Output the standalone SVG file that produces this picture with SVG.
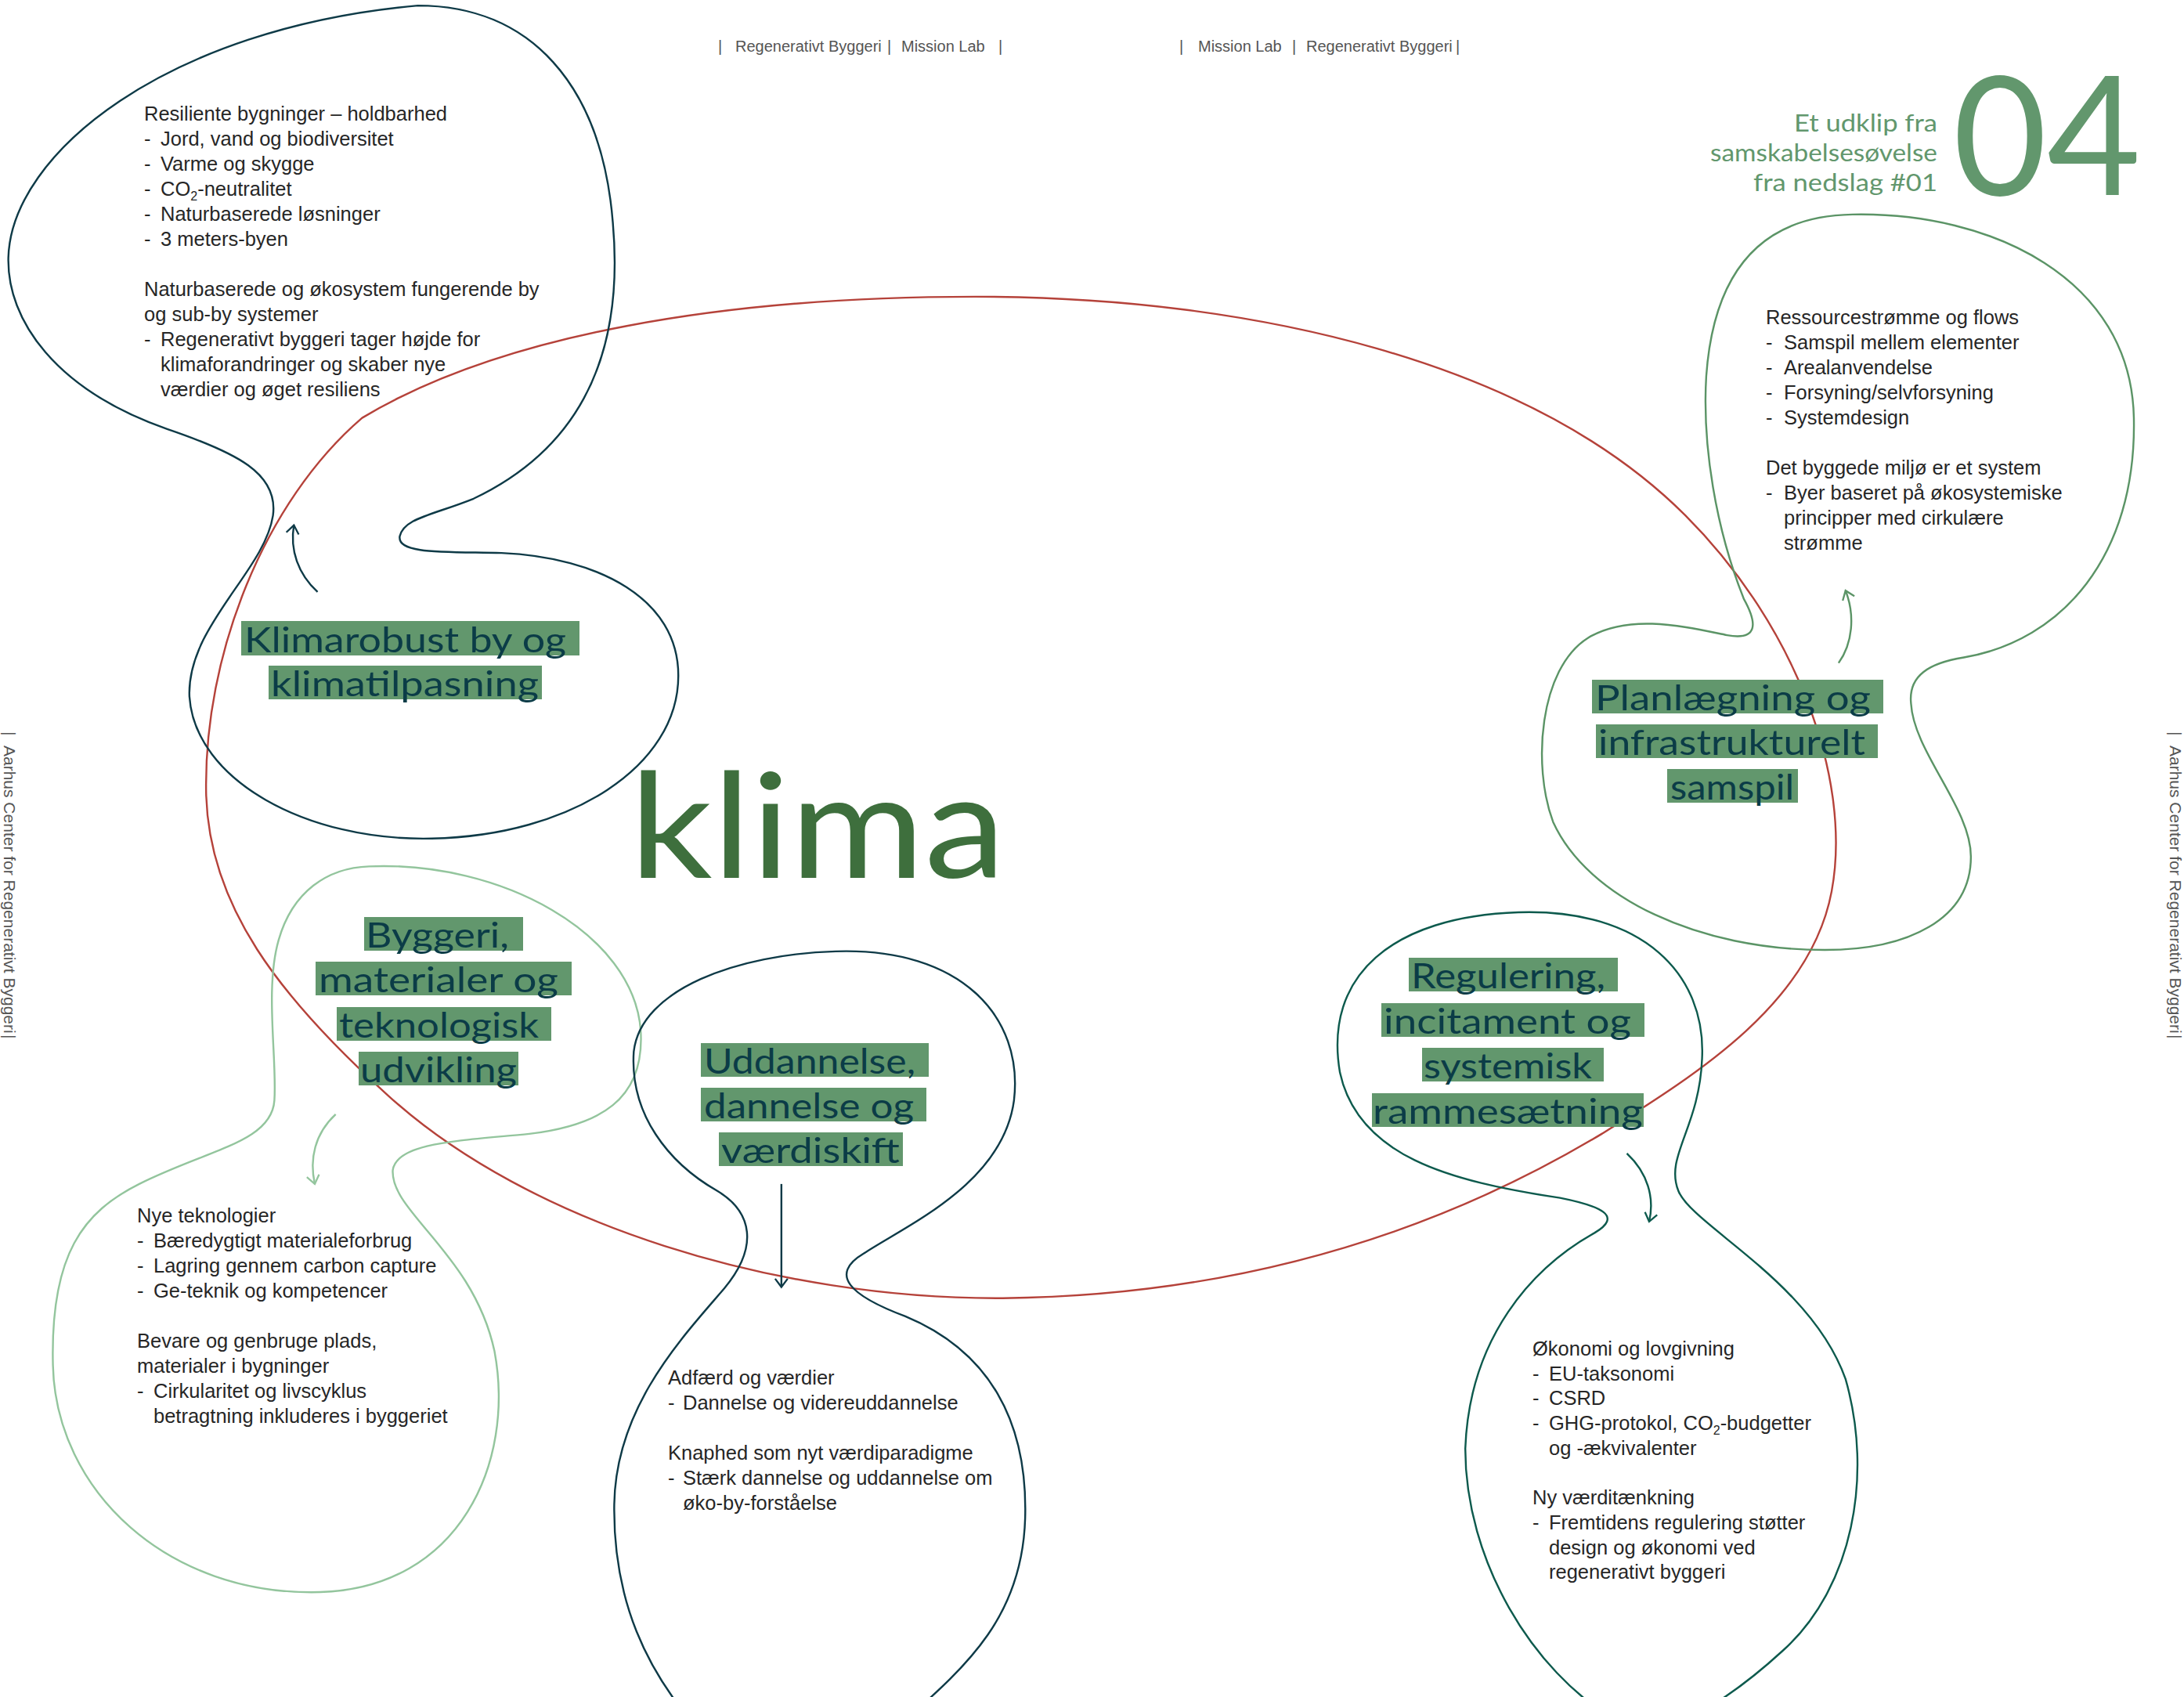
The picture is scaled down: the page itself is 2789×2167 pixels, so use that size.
<svg xmlns="http://www.w3.org/2000/svg" width="2789" height="2167" viewBox="0 0 2789 2167">
<defs>
<style>
.body{font-family:"Liberation Sans",Arial,Helvetica,sans-serif;font-size:25.5px;fill:#262626;}
.hdr{font-family:"Liberation Sans",Arial,Helvetica,sans-serif;font-size:20px;fill:#555555;}
.side{font-family:"Liberation Sans",Arial,Helvetica,sans-serif;font-size:21px;fill:#555555;}
.lbl{font-family:Lato,"Noto Sans",sans-serif;font-size:45px;fill:#0b3c47;}
.hl{fill:#62976d;}
.blob{fill:none;stroke-width:1.35;}
.conn{fill:none;stroke-width:1.35;}
.green{font-family:Lato,"Noto Sans",sans-serif;fill:#62976d;}
.sub{font-size:16px;}
</style>
<marker id="ah-navy" viewBox="-8 -6 10 12" markerWidth="10" markerHeight="12" refX="0" refY="0" orient="auto" markerUnits="userSpaceOnUse"><path d="M-6,-4.5 L0,0 L-6,4.5" fill="none" stroke="#0e3a47" stroke-width="1.3"/></marker>
<marker id="ah-green" viewBox="-8 -6 10 12" markerWidth="10" markerHeight="12" refX="0" refY="0" orient="auto" markerUnits="userSpaceOnUse"><path d="M-6,-4.5 L0,0 L-6,4.5" fill="none" stroke="#5b9466" stroke-width="1.3"/></marker>
<marker id="ah-light" viewBox="-8 -6 10 12" markerWidth="10" markerHeight="12" refX="0" refY="0" orient="auto" markerUnits="userSpaceOnUse"><path d="M-6,-4.5 L0,0 L-6,4.5" fill="none" stroke="#93c59d" stroke-width="1.3"/></marker>
<marker id="ah-teal" viewBox="-8 -6 10 12" markerWidth="10" markerHeight="12" refX="0" refY="0" orient="auto" markerUnits="userSpaceOnUse"><path d="M-6,-4.5 L0,0 L-6,4.5" fill="none" stroke="#0d5a4d" stroke-width="1.3"/></marker>
</defs>
<rect width="2789" height="2167" fill="#ffffff"/>

<!-- page furniture -->
<g id="header">
<text class="hdr" y="66"><tspan x="917">|</tspan><tspan x="939">Regenerativt Byggeri</tspan><tspan x="1133">|</tspan><tspan x="1151">Mission Lab</tspan><tspan x="1275">|</tspan></text>
<text class="hdr" y="66"><tspan x="1506">|</tspan><tspan x="1530">Mission Lab</tspan><tspan x="1650">|</tspan><tspan x="1668">Regenerativt Byggeri</tspan><tspan x="1859">|</tspan></text>
<text class="side" transform="translate(2771,934) rotate(90)"><tspan x="0" y="0">|</tspan><tspan x="18">Aarhus Center for Regenerativt Byggeri</tspan><tspan x="387">|</tspan></text>
<text class="side" transform="translate(5,934) rotate(90)"><tspan x="0" y="0">|</tspan><tspan x="18">Aarhus Center for Regenerativt Byggeri</tspan><tspan x="387">|</tspan></text>
</g>

<g id="title">
<text class="green" x="2291" y="168" font-size="31" textLength="183" lengthAdjust="spacingAndGlyphs">Et udklip fra</text>
<text class="green" x="2184" y="206" font-size="31" textLength="290" lengthAdjust="spacingAndGlyphs">samskabelsesøvelse</text>
<text class="green" x="2239" y="244" font-size="31" textLength="235" lengthAdjust="spacingAndGlyphs">fra nedslag #01</text>
<text class="green" x="2494" y="249" font-size="211" textLength="240" lengthAdjust="spacingAndGlyphs">04</text>
</g>

<!-- central climate loop -->
<g id="klima">
<path class="blob" stroke="#b5423a" transform="scale(1.7787)" d="M 700 213 C 900 213, 1100 260, 1210 370 C 1290 450, 1330 560, 1315 640 C 1300 720, 1220 770, 1150 814 C 1040 880, 900 930, 720 932 C 560 933, 380 880, 277 785 C 200 715, 150 650, 148 570 C 146 470, 190 360, 260 300 C 360 240, 520 213, 700 213 Z"/>
<text x="804" y="1121" font-family="Lato,'Noto Sans',sans-serif" font-size="186" fill="#3e6f3d" textLength="480" lengthAdjust="spacingAndGlyphs">klima</text>
</g>

<!-- node outlines -->
<g id="node-klimarobust-shape">
<path class="blob" stroke="#0e3a47" transform="scale(1.7787)" d="M 300 4 C 380 4, 432 60, 440 160 C 448 250, 420 320, 340 358 C 310 370, 290 372, 287 385 C 285 398, 320 396, 360 397 C 430 400, 487 430, 487 485 C 487 550, 410 600, 310 602 C 220 604, 140 560, 136 500 C 134 450, 190 410, 196 370 C 200 340, 170 325, 120 308 C 40 280, 5 230, 6 185 C 8 110, 120 20, 300 4 Z"/>
</g>
<g id="node-planlaegning-shape">
<path class="blob" stroke="#5b9466" transform="scale(1.7787)" d="M 1330 154 C 1430 152, 1530 200, 1532 300 C 1534 400, 1480 460, 1410 472 C 1385 476, 1370 485, 1372 505 C 1374 540, 1415 580, 1415 615 C 1415 660, 1370 682, 1310 682 C 1220 682, 1140 645, 1115 590 C 1100 550, 1105 480, 1140 458 C 1170 440, 1210 450, 1240 456 C 1262 460, 1262 448, 1252 430 C 1232 380, 1222 320, 1225 270 C 1230 200, 1260 155, 1330 154 Z"/>
</g>
<g id="node-byggeri-shape">
<path class="blob" stroke="#93c59d" transform="scale(1.7787)" d="M 265 622 C 360 618, 455 670, 460 740 C 463 790, 430 808, 380 814 C 330 819, 285 820, 282 840 C 280 870, 340 900, 355 970 C 370 1050, 330 1140, 230 1143 C 120 1146, 40 1070, 38 980 C 36 900, 60 870, 100 850 C 150 825, 195 820, 197 790 C 199 760, 190 710, 200 675 C 210 640, 235 623, 265 622 Z"/>
</g>
<g id="node-uddannelse-shape">
<path class="blob" stroke="#0e3a47" transform="scale(1.7787)" d="M 600 683 C 690 680, 735 730, 728 790 C 720 850, 650 880, 620 900 C 595 915, 610 930, 650 945 C 710 970, 738 1020, 736 1090 C 734 1160, 695 1195, 650 1235 L 500 1240 C 465 1200, 440 1150, 441 1080 C 442 1010, 490 960, 520 925 C 545 895, 540 870, 515 855 C 480 835, 452 800, 455 755 C 460 710, 530 685, 600 683 Z"/>
</g>
<g id="node-regulering-shape">
<path class="blob" stroke="#0d5a4d" transform="scale(1.7787)" d="M 1090 655 C 1180 652, 1225 700, 1222 760 C 1220 810, 1195 830, 1205 855 C 1215 880, 1300 920, 1325 990 C 1345 1060, 1330 1140, 1280 1185 C 1255 1208, 1230 1225, 1210 1235 L 1160 1235 C 1100 1200, 1052 1120, 1052 1040 C 1055 960, 1100 910, 1145 885 C 1165 873, 1150 866, 1120 860 C 1040 848, 975 830, 962 770 C 950 700, 1000 658, 1090 655 Z"/>
</g>

<!-- connectors -->
<g id="connectors">
<path class="conn" stroke="#0e3a47" marker-end="url(#ah-navy)" transform="scale(1.7787)" d="M 228 425 C 214 412, 208 395, 211 377"/>
<path class="conn" stroke="#5b9466" marker-end="url(#ah-green)" transform="scale(1.7787)" d="M 1320 476 C 1330 462, 1332 442, 1325 424"/>
<path class="conn" stroke="#93c59d" marker-end="url(#ah-light)" transform="scale(1.7787)" d="M 241 800 C 226 814, 222 832, 226 850"/>
<path class="conn" stroke="#0e3a47" marker-end="url(#ah-navy)" transform="scale(1.7787)" d="M 561 850 L 561 924"/>
<path class="conn" stroke="#0d5a4d" marker-end="url(#ah-teal)" transform="scale(1.7787)" d="M 1168 828 C 1183 842, 1188 860, 1184 877"/>
</g>

<!-- body texts -->
<g id="text-klimarobust">
<text class="body">
<tspan x="184" y="154">Resiliente bygninger – holdbarhed</tspan>
<tspan x="184" y="186">-</tspan><tspan x="205">Jord, vand og biodiversitet</tspan>
<tspan x="184" y="218">-</tspan><tspan x="205">Varme og skygge</tspan>
<tspan x="184" y="250">-</tspan><tspan x="205">CO</tspan><tspan class="sub" dy="6">2</tspan><tspan dy="-6">-neutralitet</tspan>
<tspan x="184" y="282">-</tspan><tspan x="205">Naturbaserede løsninger</tspan>
<tspan x="184" y="314">-</tspan><tspan x="205">3 meters-byen</tspan>
<tspan x="184" y="378">Naturbaserede og økosystem fungerende by</tspan>
<tspan x="184" y="410">og sub-by systemer</tspan>
<tspan x="184" y="442">-</tspan><tspan x="205">Regenerativt byggeri tager højde for</tspan>
<tspan x="205" y="474">klimaforandringer og skaber nye</tspan>
<tspan x="205" y="506">værdier og øget resiliens</tspan>
</text>
</g>
<g id="text-planlaegning">
<text class="body">
<tspan x="2255" y="414">Ressourcestrømme og flows</tspan>
<tspan x="2255" y="446">-</tspan><tspan x="2278">Samspil mellem elementer</tspan>
<tspan x="2255" y="478">-</tspan><tspan x="2278">Arealanvendelse</tspan>
<tspan x="2255" y="510">-</tspan><tspan x="2278">Forsyning/selvforsyning</tspan>
<tspan x="2255" y="542">-</tspan><tspan x="2278">Systemdesign</tspan>
<tspan x="2255" y="606">Det byggede miljø er et system</tspan>
<tspan x="2255" y="638">-</tspan><tspan x="2278">Byer baseret på økosystemiske</tspan>
<tspan x="2278" y="670">principper med cirkulære</tspan>
<tspan x="2278" y="702">strømme</tspan>
</text>
</g>
<g id="text-byggeri">
<text class="body">
<tspan x="175" y="1561">Nye teknologier</tspan>
<tspan x="175" y="1593">-</tspan><tspan x="196">Bæredygtigt materialeforbrug</tspan>
<tspan x="175" y="1625">-</tspan><tspan x="196">Lagring gennem carbon capture</tspan>
<tspan x="175" y="1657">-</tspan><tspan x="196">Ge-teknik og kompetencer</tspan>
<tspan x="175" y="1721">Bevare og genbruge plads,</tspan>
<tspan x="175" y="1753">materialer i bygninger</tspan>
<tspan x="175" y="1785">-</tspan><tspan x="196">Cirkularitet og livscyklus</tspan>
<tspan x="196" y="1817">betragtning inkluderes i byggeriet</tspan>
</text>
</g>
<g id="text-uddannelse">
<text class="body">
<tspan x="853" y="1768">Adfærd og værdier</tspan>
<tspan x="853" y="1800">-</tspan><tspan x="872">Dannelse og videreuddannelse</tspan>
<tspan x="853" y="1864">Knaphed som nyt værdiparadigme</tspan>
<tspan x="853" y="1896">-</tspan><tspan x="872">Stærk dannelse og uddannelse om</tspan>
<tspan x="872" y="1928">øko-by-forståelse</tspan>
</text>
</g>
<g id="text-regulering">
<text class="body">
<tspan x="1957" y="1731">Økonomi og lovgivning</tspan>
<tspan x="1957" y="1763">-</tspan><tspan x="1978">EU-taksonomi</tspan>
<tspan x="1957" y="1794">-</tspan><tspan x="1978">CSRD</tspan>
<tspan x="1957" y="1826">-</tspan><tspan x="1978">GHG-protokol, CO</tspan><tspan class="sub" dy="6">2</tspan><tspan dy="-6">-budgetter</tspan>
<tspan x="1978" y="1858">og -ækvivalenter</tspan>
<tspan x="1957" y="1921">Ny værditænkning</tspan>
<tspan x="1957" y="1953">-</tspan><tspan x="1978">Fremtidens regulering støtter</tspan>
<tspan x="1978" y="1985">design og økonomi ved</tspan>
<tspan x="1978" y="2016">regenerativt byggeri</tspan>
</text>
</g>

<!-- highlighted labels -->
<g id="node-klimarobust">
<rect class="hl" x="308" y="793" width="432" height="44"/>
<rect class="hl" x="343" y="850" width="349" height="43"/>
<text class="lbl" x="312" y="833" textLength="411" lengthAdjust="spacingAndGlyphs">Klimarobust by og</text>
<text class="lbl" x="346" y="889" textLength="342" lengthAdjust="spacingAndGlyphs">klimatilpasning</text>
</g>
<g id="node-planlaegning">
<rect class="hl" x="2033" y="868" width="372" height="43"/>
<rect class="hl" x="2038" y="925" width="360" height="43"/>
<rect class="hl" x="2129" y="982" width="167" height="43"/>
<text class="lbl" x="2037" y="907" textLength="352" lengthAdjust="spacingAndGlyphs">Planlægning og</text>
<text class="lbl" x="2041" y="964" textLength="341" lengthAdjust="spacingAndGlyphs">infrastrukturelt</text>
<text class="lbl" x="2133" y="1021" textLength="158" lengthAdjust="spacingAndGlyphs">samspil</text>
</g>
<g id="node-byggeri">
<rect class="hl" x="465" y="1171" width="203" height="43"/>
<rect class="hl" x="403" y="1228" width="327" height="43"/>
<rect class="hl" x="430" y="1286" width="274" height="43"/>
<rect class="hl" x="458" y="1343" width="204" height="43"/>
<text class="lbl" x="467" y="1210" textLength="183" lengthAdjust="spacingAndGlyphs">Byggeri,</text>
<text class="lbl" x="407" y="1267" textLength="306" lengthAdjust="spacingAndGlyphs">materialer og</text>
<text class="lbl" x="433" y="1325" textLength="255" lengthAdjust="spacingAndGlyphs">teknologisk</text>
<text class="lbl" x="460" y="1382" textLength="200" lengthAdjust="spacingAndGlyphs">udvikling</text>
</g>
<g id="node-uddannelse">
<rect class="hl" x="895" y="1332" width="291" height="43"/>
<rect class="hl" x="895" y="1389" width="288" height="43"/>
<rect class="hl" x="918" y="1446" width="235" height="43"/>
<text class="lbl" x="899" y="1371" textLength="270" lengthAdjust="spacingAndGlyphs">Uddannelse,</text>
<text class="lbl" x="899" y="1428" textLength="268" lengthAdjust="spacingAndGlyphs">dannelse og</text>
<text class="lbl" x="921" y="1485" textLength="228" lengthAdjust="spacingAndGlyphs">værdiskift</text>
</g>
<g id="node-regulering">
<rect class="hl" x="1799" y="1223" width="267" height="43"/>
<rect class="hl" x="1764" y="1281" width="336" height="43"/>
<rect class="hl" x="1816" y="1338" width="232" height="43"/>
<rect class="hl" x="1752" y="1396" width="347" height="43"/>
<text class="lbl" x="1802" y="1262" textLength="248" lengthAdjust="spacingAndGlyphs">Regulering,</text>
<text class="lbl" x="1767" y="1320" textLength="316" lengthAdjust="spacingAndGlyphs">incitament og</text>
<text class="lbl" x="1818" y="1377" textLength="215" lengthAdjust="spacingAndGlyphs">systemisk</text>
<text class="lbl" x="1753" y="1435" textLength="345" lengthAdjust="spacingAndGlyphs">rammesætning</text>
</g>
</svg>
